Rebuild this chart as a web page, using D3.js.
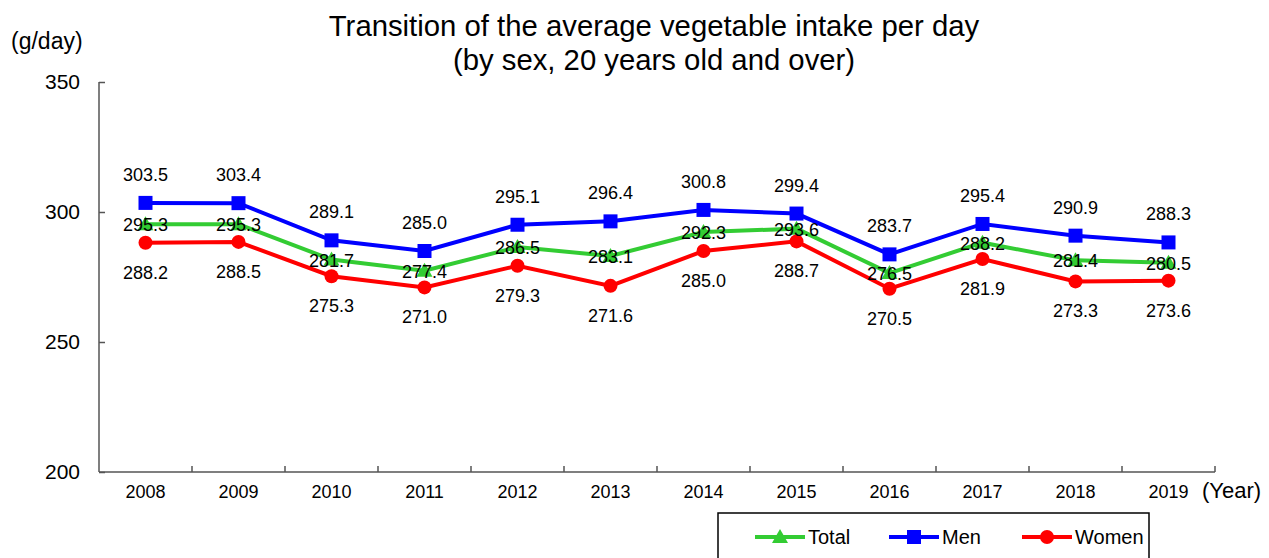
<!DOCTYPE html>
<html>
<head>
<meta charset="utf-8">
<script src="https://cdn.jsdelivr.net/npm/d3@7"></script>
<style>
  body { margin: 0; background: #fff; }
  text { font-family: "Liberation Sans", Arial, sans-serif; fill: #000; }
</style>
</head>
<body>
<div id="chart"></div>
<script>
const years = ['2008', '2009', '2010', '2011', '2012', '2013', '2014', '2015', '2016', '2017', '2018', '2019'];
const totalValues = [295.3, 295.3, 281.7, 277.4, 286.5, 283.1, 292.3, 293.6, 276.5, 288.2, 281.4, 280.5];
const menValues = [303.5, 303.4, 289.1, 285.0, 295.1, 296.4, 300.8, 299.4, 283.7, 295.4, 290.9, 288.3];
const womenValues = [288.2, 288.5, 275.3, 271.0, 279.3, 271.6, 285.0, 288.7, 270.5, 281.9, 273.3, 273.6];
const yTicks = [200, 250, 300, 350];

const w = 1269, h = 558;
const margin = { top: 82, right: 54, bottom: 86, left: 99 };

const svg = d3.select('#chart').append('svg').attr('width', w).attr('height', h);

const x = d3.scaleBand().domain(years).range([margin.left, w - margin.right]);
const y = d3.scaleLinear().domain([200, 350]).range([h - margin.bottom, margin.top]);

// title
svg.append('text').attr('x', 654).attr('y', 36).attr('text-anchor', 'middle')
  .style('font-size', '29.3px').text('Transition of the average vegetable intake per day');
svg.append('text').attr('x', 654).attr('y', 70).attr('text-anchor', 'middle')
  .style('font-size', '29.3px').text('(by sex, 20 years old and over)');

svg.append('text').attr('x', 11).attr('y', 49).style('font-size', '23px').text('(g/day)');
svg.append('text').attr('x', 1202).attr('y', 498).style('font-size', '22px').text('(Year)');

// axes
const yAxis = d3.axisLeft(y).tickValues(yTicks).tickSize(-6).tickPadding(19);
svg.append('g').attr('transform', `translate(${margin.left},0)`).call(yAxis)
  .call(g => g.selectAll('text').style('font-size', '21px'))
  .call(g => g.select('.domain').attr('d', `M0,${y(350)}V${y(200)}`));

const xAxis = d3.axisBottom(x).tickSize(0).tickPadding(13);
const gx = svg.append('g').attr('transform', `translate(0,${y(200)})`).call(xAxis);
gx.selectAll('text').style('font-size', '18px');
gx.select('.domain').attr('d', `M${margin.left},0H${w - margin.right}`);
gx.selectAll('.sep').data(years).enter().append('line')
  .attr('class', 'sep')
  .attr('x1', d => x(d) + x.bandwidth())
  .attr('x2', d => x(d) + x.bandwidth())
  .attr('y1', 0).attr('y2', -6).attr('stroke', '#000');
svg.selectAll('.domain, .tick line, .sep').attr('stroke', '#555').attr('stroke-width', 1.5);

const cx = d => x(d) + x.bandwidth() / 2;

const series = [
  { name: 'Total', values: totalValues, color: '#33cc33', marker: 'triangle', dy: 7 },
  { name: 'Men', values: menValues, color: '#0000ff', marker: 'square', dy: -22 },
  { name: 'Women', values: womenValues, color: '#ff0000', marker: 'circle', dy: 36 }
];

const line = d3.line().x((d, i) => cx(years[i])).y(d => y(d));

function drawMarker(g, type, color) {
  if (type === 'square') {
    g.append('rect').attr('x', -7).attr('y', -7).attr('width', 14).attr('height', 14).attr('fill', color);
  } else if (type === 'circle') {
    g.append('circle').attr('r', 7).attr('fill', color);
  } else {
    g.append('path').attr('d', 'M0,-8L8,6L-8,6Z').attr('fill', color);
  }
}

series.forEach(s => {
  svg.append('path').datum(s.values).attr('d', line)
    .attr('fill', 'none').attr('stroke', s.color).attr('stroke-width', 4);
  s.values.forEach((v, i) => {
    const g = svg.append('g').attr('transform', `translate(${cx(years[i])},${y(v)})`);
    drawMarker(g, s.marker, s.color);
  });
});

series.forEach(s => {
  svg.append('g').selectAll('text').data(s.values).enter().append('text')
    .attr('x', (d, i) => cx(years[i]))
    .attr('y', d => y(d) + s.dy)
    .attr('text-anchor', 'middle')
    .style('font-size', '18px')
    .text(d => d.toFixed(1));
});

// legend
svg.append('rect').attr('x', 718).attr('y', 513).attr('width', 431).attr('height', 60)
  .attr('fill', 'none').attr('stroke', '#000').attr('stroke-width', 1.5);
const legendPos = [755, 889, 1022];
series.forEach((s, i) => {
  const lx = legendPos[i];
  svg.append('line').attr('x1', lx).attr('x2', lx + 50).attr('y1', 537).attr('y2', 537)
    .attr('stroke', s.color).attr('stroke-width', 4);
  const g = svg.append('g').attr('transform', `translate(${lx + 25},537)`);
  drawMarker(g, s.marker, s.color);
  svg.append('text').attr('x', lx + 53).attr('y', 544).style('font-size', '20px').text(s.name);
});
</script>
</body>
</html>
